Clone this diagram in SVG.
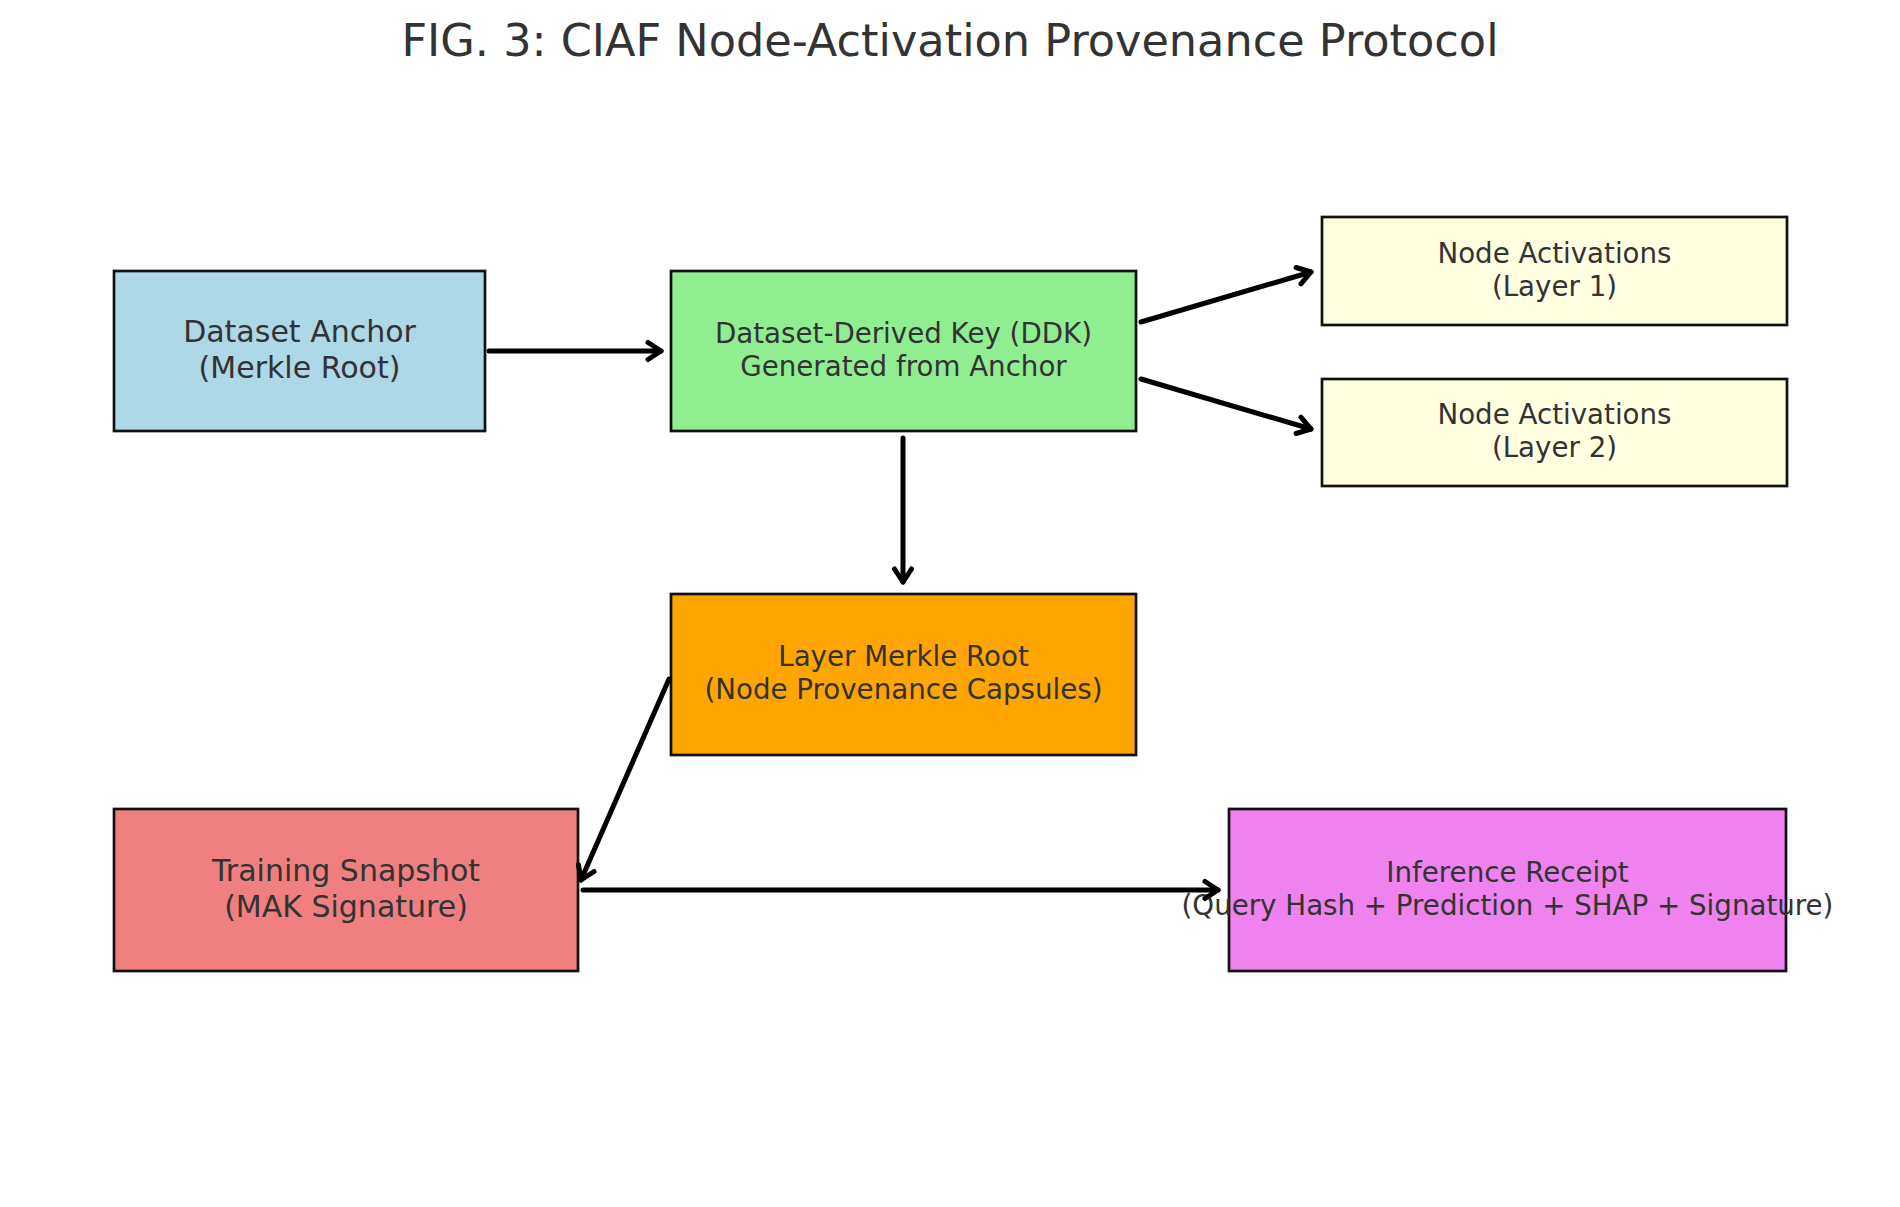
<svg xmlns="http://www.w3.org/2000/svg" width="1900" height="1207" viewBox="0 0 1900 1207">
<style>
  .box { stroke: #111; stroke-width: 2.7; }
  .t { font-family: "DejaVu Sans", sans-serif; fill: #333; text-anchor: middle; }
  .big { font-size: 30px; }
  .med { font-size: 27.7px; }
  .title { font-size: 44.6px; }
  .c { stroke: #000; stroke-width: 5; fill: none; stroke-linecap: round; marker-end: url(#ah); }
</style>
<defs>
  <marker id="ah" markerUnits="userSpaceOnUse" markerWidth="40" markerHeight="40" refX="0" refY="0" orient="auto" overflow="visible">
    <path d="M -13 -8.5 L 0 0 L -13 8.5" fill="none" stroke="#000" stroke-width="5" stroke-linecap="round" stroke-linejoin="round"/>
  </marker>
</defs>
<rect width="1900" height="1207" fill="#fff"/>
<text class="t title" x="950" y="56">FIG. 3: CIAF Node-Activation Provenance Protocol</text>

<g id="node-dataset-anchor">
  <rect class="box" x="114" y="271" width="371" height="160" fill="#ADD8E6"/>
  <text class="t big" x="299.5" y="342">Dataset Anchor</text>
  <text class="t big" x="299.5" y="378">(Merkle Root)</text>
</g>
<g id="node-ddk">
  <rect class="box" x="671" y="271" width="465" height="160" fill="#90EE90"/>
  <text class="t med" x="903.5" y="343">Dataset-Derived Key (DDK)</text>
  <text class="t med" x="903.5" y="376">Generated from Anchor</text>
</g>
<g id="node-activations-1">
  <rect class="box" x="1322" y="217" width="465" height="108" fill="#FFFFE0"/>
  <text class="t med" x="1554.5" y="263">Node Activations</text>
  <text class="t med" x="1554.5" y="296">(Layer 1)</text>
</g>
<g id="node-activations-2">
  <rect class="box" x="1322" y="379" width="465" height="107" fill="#FFFFE0"/>
  <text class="t med" x="1554.5" y="424">Node Activations</text>
  <text class="t med" x="1554.5" y="457">(Layer 2)</text>
</g>
<g id="node-layer-merkle">
  <rect class="box" x="671" y="594" width="465" height="161" fill="#FFA500"/>
  <text class="t med" x="903.5" y="666">Layer Merkle Root</text>
  <text class="t med" x="903.5" y="699">(Node Provenance Capsules)</text>
</g>
<g id="node-training">
  <rect class="box" x="114" y="809" width="464" height="162" fill="#F08080"/>
  <text class="t big" x="346" y="881">Training Snapshot</text>
  <text class="t big" x="346" y="917">(MAK Signature)</text>
</g>
<g id="node-inference">
  <rect class="box" x="1229" y="809" width="557" height="162" fill="#EE82EE"/>
  <text class="t med" x="1507.5" y="882">Inference Receipt</text>
  <text class="t med" x="1507.5" y="915">(Query Hash + Prediction + SHAP + Signature)</text>
</g>

<g id="connectors">
  <line class="c" x1="489" y1="351" x2="661" y2="351"/>
  <line class="c" x1="1141" y1="322" x2="1311" y2="272"/>
  <line class="c" x1="1141" y1="379" x2="1311" y2="429"/>
  <line class="c" x1="903" y1="438" x2="903" y2="582"/>
  <line class="c" x1="669" y1="679" x2="581" y2="880"/>
  <line class="c" x1="583" y1="890" x2="1218" y2="890"/>
</g>
</svg>
